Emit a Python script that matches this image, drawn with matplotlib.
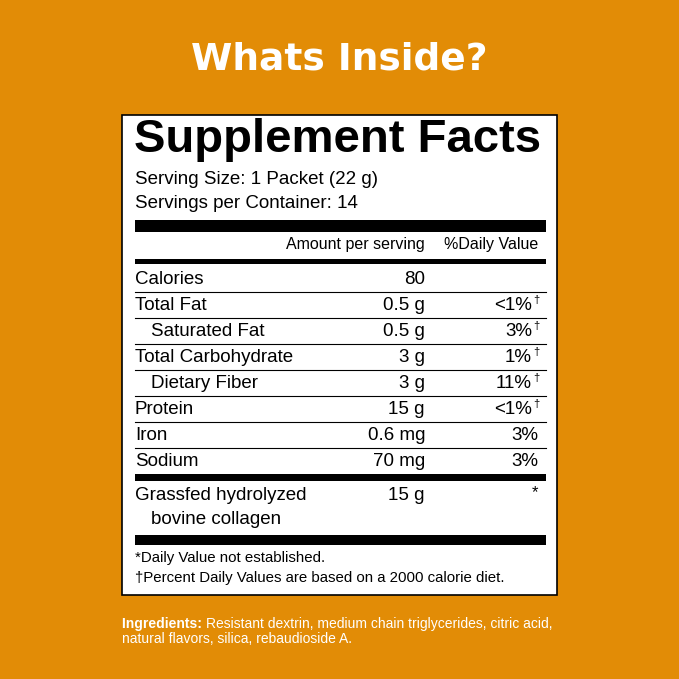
import matplotlib
matplotlib.use("Agg")
import matplotlib.pyplot as plt

plt.rcParams['font.family'] = ['Liberation Sans', 'DejaVu Sans']

bg = '#E28C06'
title = 'Whats Inside?'
serving = ['Serving Size: 1 Packet (22 g)', 'Servings per Container: 14']
nutrients = ['Calories', 'Total Fat', 'Saturated Fat', 'Total Carbohydrate',
             'Dietary Fiber', 'Protein', 'Iron', 'Sodium']
indent = [False, False, True, False, True, False, False, False]
amounts = ['80', '0.5 g', '0.5 g', '3 g', '3 g', '15 g', '0.6 mg', '70 mg']
dv = ['', '<1%', '3%', '1%', '11%', '<1%', '3%', '3%']
dagger = [False, True, True, True, True, True, False, False]
footnotes = ['*Daily Value not established.',
             '\u2020Percent Daily Values are based on a 2000 calorie diet.']
ingr_lines = ['Resistant dextrin, medium chain triglycerides, citric acid,',
              'natural flavors, silica, rebaudioside A.']

fig = plt.figure(figsize=(6.79, 6.79), dpi=100, facecolor=bg)
ax = fig.add_axes([0, 0, 1, 1])
ax.set_xlim(0, 679)
ax.set_ylim(679, 0)
ax.axis('off')

ax.text(339.5, 60, title, color='white', fontsize=27, fontweight='bold',
        ha='center', va='center', family=['DejaVu Sans'])

ax.add_patch(plt.Rectangle((122, 115), 435, 480, facecolor='white',
                           edgecolor='black', lw=1.2))
L, R = 135, 546
ax.text(L - 1, 140, 'Supplement Facts', fontsize=34, fontweight='heavy', va='center')
for i, s in enumerate(serving):
    ax.text(L, 180 + 24 * i, s, fontsize=13.5, va='center')

def bar(y0, y1):
    ax.add_patch(plt.Rectangle((L, y0), R - L, y1 - y0, color='black', lw=0))

bar(220, 232)
ax.text(425, 245, 'Amount per serving', fontsize=11.5, ha='right', va='center')
ax.text(538, 245, '%Daily Value', fontsize=11.5, ha='right', va='center')
bar(259, 264)

for i, name in enumerate(nutrients):
    y = 279 + 26 * i
    ax.text(L + (16 if indent[i] else 0), y, name, fontsize=13.5, va='center')
    ax.text(425, y, amounts[i], fontsize=13.5, ha='right', va='center')
    if dagger[i]:
        ax.text(532, y, dv[i], fontsize=13.5, ha='right', va='center')
        ax.text(533, y - 5, '\u2020', fontsize=8, ha='left', va='center')
    else:
        ax.text(538, y, dv[i], fontsize=13.5, ha='right', va='center')
    if i < len(nutrients) - 1:
        ax.plot([L, R], [y + 13, y + 13], color='black', lw=0.8)

bar(474, 481)
ax.text(L, 495, 'Grassfed hydrolyzed', fontsize=13.5, va='center')
ax.text(L + 16, 519, 'bovine collagen', fontsize=13.5, va='center')
ax.text(425, 495, '15 g', fontsize=13.5, ha='right', va='center')
ax.text(538, 493, '*', fontsize=12, ha='right', va='center')
bar(535, 545)
for i, s in enumerate(footnotes):
    ax.text(L, 558 + 20 * i, s, fontsize=10.8, va='center')

# bold label followed by regular text on the same line
t = ax.text(L - 13, 624, 'Ingredients: ', color='white', fontsize=10,
            fontweight='bold', va='center')
fig.canvas.draw()
bb = t.get_window_extent(fig.canvas.get_renderer())
x_data = ax.transData.inverted().transform((bb.x1, 0))[0]
ax.text(x_data, 624, ingr_lines[0], color='white', fontsize=10, va='center')
ax.text(L - 13, 639, ingr_lines[1], color='white', fontsize=10, va='center')

fig.savefig('out.png', dpi=100, facecolor=bg)
